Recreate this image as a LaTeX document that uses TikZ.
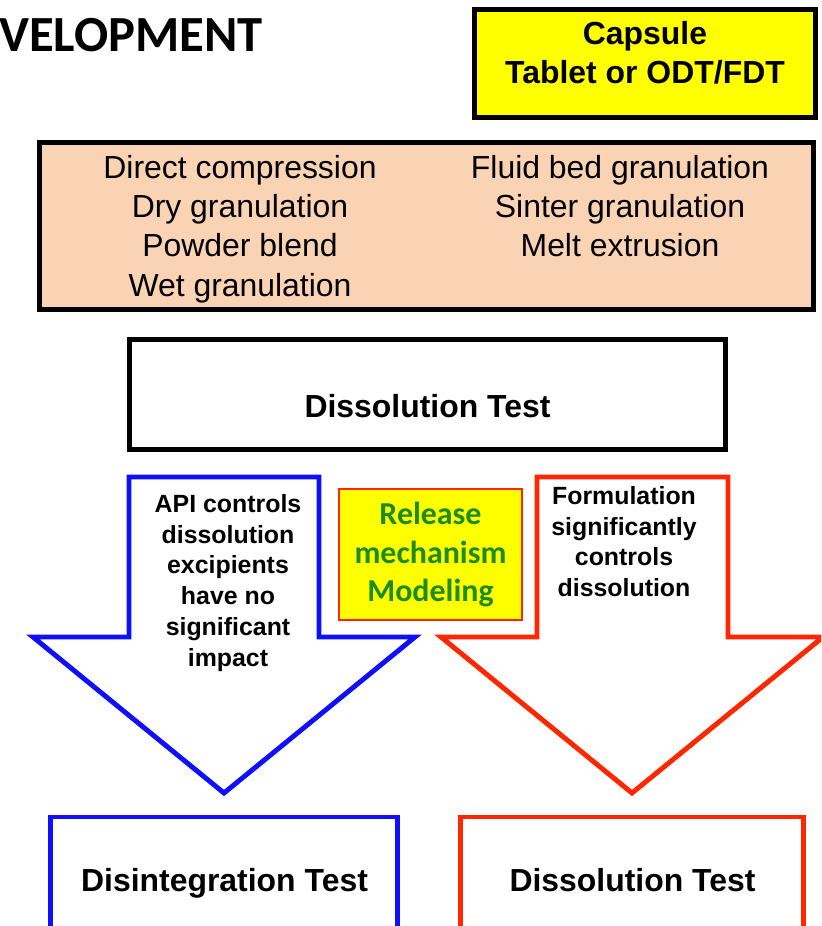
\documentclass[tikz,border=0pt]{standalone}
\usepackage{fontspec}
\setmainfont{Liberation Sans}
\newfontfamily\calfont{Carlito}
\usepackage{xcolor}
\usepackage{tikz}
\usetikzlibrary{positioning}

\definecolor{peach}{RGB}{250,211,180}
\definecolor{capyellow}{RGB}{255,255,0}
\definecolor{apiblue}{RGB}{15,15,250}
\definecolor{formred}{RGB}{255,38,0}
\definecolor{modgreen}{RGB}{28,140,28}

\begin{document}
\begin{tikzpicture}[x=0.025cm, y=-0.025cm,
        box/.style={draw, rectangle, line width=3.5pt, inner sep=0pt},
        bigtext/.style={font=\fontsize{22.7}{27.6}\selectfont\bfseries, align=center, inner sep=0pt},
        methtext/.style={font=\fontsize{22.7}{27.9}\selectfont, align=center, inner sep=0pt, anchor=north},
        armtext/.style={font=\fontsize{17.7}{21.9}\selectfont\bfseries, align=center, inner sep=0pt, anchor=north},
        blockarrow/.style={line width=3.5pt, miter limit=20, fill=white}]
        \path[use as bounding box, clip] (0,0) rectangle (821,926);

        % heading, cut off at the left
        \node[font=\calfont\fontsize{36}{40}\selectfont\bfseries, anchor=west, inner sep=0pt] (title) at (-1,35) {VELOPMENT};

        % dosage form
        \node[box, fill=capyellow, minimum width=8.525cm, minimum height=2.7cm] (form) at (645,63.5) {};
        \node[bigtext, anchor=north] (formtxt) at (645,21) {Capsule\\Tablet or ODT/FDT};

        % manufacturing processes
        \node[box, fill=peach, minimum width=19.35cm, minimum height=4.175cm] (proc) at (426.5,226) {};
        \node[methtext] (procL) at (240,155) {Direct compression\\Dry granulation\\Powder blend\\Wet granulation};
        \node[methtext] (procR) at (620,155) {Fluid bed granulation\\Sinter granulation\\Melt extrusion};

        % dissolution test
        \node[box, fill=white, minimum width=14.9cm, minimum height=2.75cm] (dtest) at (427.5,394.5) {};
        \node[bigtext, anchor=base] (dtesttxt) at (427.5,417.5) {Dissolution Test};

        % the two ways down
        \draw[blockarrow, draw=apiblue] (129,477) -- (319,477) -- (319,637) -- (415,637)
            -- (224,793) -- (33,637) -- (129,637) -- cycle;
        \draw[blockarrow, draw=formred] (537,477) -- (728,477) -- (728,637) -- (823,637)
            -- (632,793) -- (441,637) -- (537,637) -- cycle;
        \node[armtext] (apitxt) at (228,494) {API controls\\dissolution\\excipients\\have no\\significant\\impact};
        \node[armtext] (formultxt) at (624,486) {Formulation\\significantly\\controls\\dissolution};

        % modeling
        \node[draw=formred, fill=capyellow, line width=1pt, minimum width=4.575cm, minimum height=3.275cm,
            font=\calfont\fontsize{22.7}{27.6}\selectfont\bfseries, text=modgreen, align=center] (model)
            at (430.5,554.5) {Release\\mechanism\\Modeling};

        % resulting tests
        \node[box, draw=apiblue, minimum width=8.65cm, minimum height=3.0cm, anchor=north] (disint) at (224,814.5) {};
        \node[box, draw=formred, minimum width=8.575cm, minimum height=3.0cm, anchor=north] (dissol) at (632,814.5) {};
        \node[bigtext, anchor=base] (disinttxt) at (224.5,891) {Disintegration Test};
        \node[bigtext, anchor=base] (dissoltxt) at (632.5,891) {Dissolution Test};

    \end{tikzpicture}
\end{document}
